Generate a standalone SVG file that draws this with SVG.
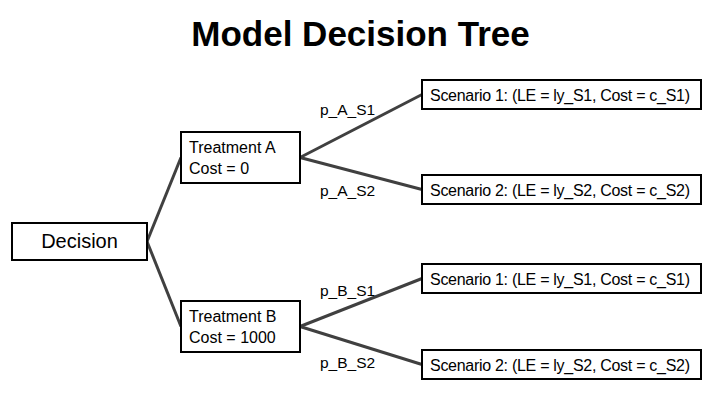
<svg xmlns="http://www.w3.org/2000/svg" width="709" height="401" viewBox="0 0 709 401">
<style>
.box{fill:#fff;stroke:#000;stroke-width:2}
.t{font-family:"Liberation Sans",Arial,sans-serif;font-size:16px;fill:#000}
.s{font-family:"Liberation Sans",Arial,sans-serif;font-size:16px;fill:#000}
.lbl{font-family:"Liberation Sans",Arial,sans-serif;font-size:15.5px;fill:#000}
.ln{stroke:#404040;stroke-width:3;fill:none}
</style>
<rect width="709" height="401" fill="#fff"/>
<text x="360.5" y="46" text-anchor="middle" font-family="'Liberation Sans',Arial,sans-serif" font-weight="bold" font-size="35">Model Decision Tree</text>
<g id="connectors">
<line class="ln" x1="147" y1="241.5" x2="181" y2="157.5"/>
<line class="ln" x1="147" y1="241.5" x2="181" y2="326.5"/>
<line class="ln" x1="300" y1="157.5" x2="422" y2="94.5"/>
<line class="ln" x1="300" y1="157.5" x2="422" y2="189.5"/>
<line class="ln" x1="300" y1="326.5" x2="422" y2="278.5"/>
<line class="ln" x1="300" y1="326.5" x2="422" y2="364.5"/>
<text class="lbl" x="320" y="115">p_A_S1</text>
<text class="lbl" x="320" y="196">p_A_S2</text>
<text class="lbl" x="320" y="296">p_B_S1</text>
<text class="lbl" x="320" y="368">p_B_S2</text>
</g>
<g id="decision">
<rect class="box" x="12" y="223" width="135" height="37"/>
<text x="79.5" y="248" text-anchor="middle" font-family="'Liberation Sans',Arial,sans-serif" font-size="20">Decision</text>
</g>
<g id="treatmentA">
<rect class="box" x="181" y="132" width="119" height="51"/>
<text class="t" x="189" y="153">Treatment A</text>
<text class="t" x="189" y="174">Cost = 0</text>
</g>
<g id="treatmentB">
<rect class="box" x="181" y="301" width="119" height="51"/>
<text class="t" x="189" y="322">Treatment B</text>
<text class="t" x="189" y="343">Cost = 1000</text>
</g>
<g id="scenA1">
<rect class="box" x="422" y="80" width="279" height="29"/>
<text class="s" x="430" y="100.5" textLength="260">Scenario 1: (LE = ly_S1, Cost = c_S1)</text>
</g>
<g id="scenA2">
<rect class="box" x="422" y="175" width="279" height="29"/>
<text class="s" x="430" y="195.5" textLength="260">Scenario 2: (LE = ly_S2, Cost = c_S2)</text>
</g>
<g id="scenB1">
<rect class="box" x="422" y="264" width="279" height="29"/>
<text class="s" x="430" y="284.5" textLength="260">Scenario 1: (LE = ly_S1, Cost = c_S1)</text>
</g>
<g id="scenB2">
<rect class="box" x="422" y="350" width="279" height="29"/>
<text class="s" x="430" y="370.5" textLength="260">Scenario 2: (LE = ly_S2, Cost = c_S2)</text>
</g>
</svg>
